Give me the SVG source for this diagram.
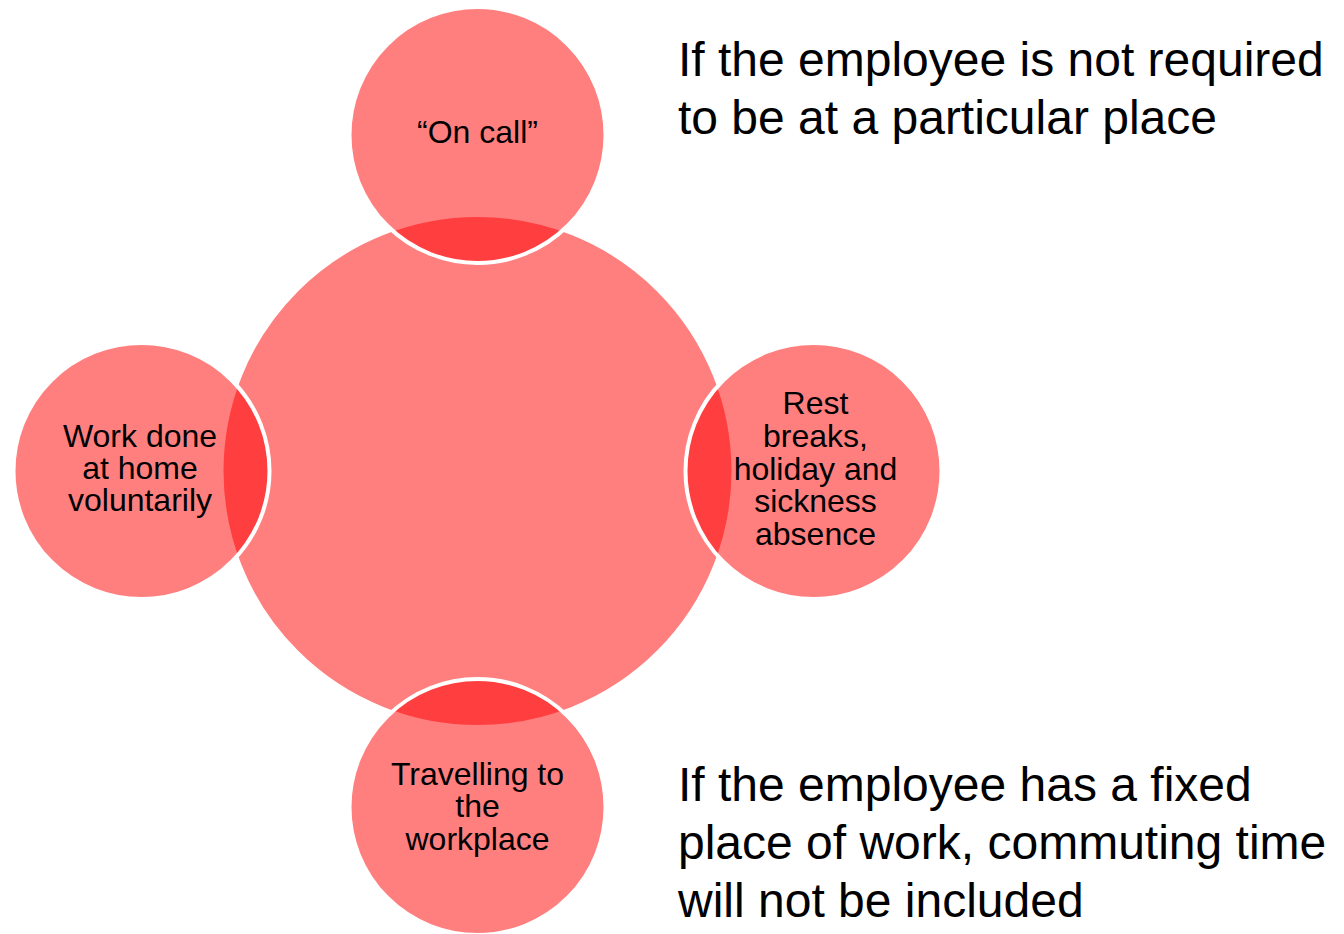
<svg xmlns="http://www.w3.org/2000/svg" width="1344" height="934" viewBox="0 0 1344 934">
  <style>
    .disc { fill: #ff0000; fill-opacity: 0.5; stroke: #ffffff; stroke-width: 4; }
    .label { font-family: "Liberation Sans", Arial, sans-serif; font-size: 32px; fill: #000000; text-anchor: middle; }
    .note { font-family: "Liberation Sans", Arial, sans-serif; font-size: 48px; fill: #000000; }
  </style>
  <rect width="1344" height="934" fill="#ffffff"/>

  <!-- central hub -->
  <g id="hub">
    <circle class="disc" cx="477.5" cy="471" r="256"/>
  </g>

  <!-- satellite nodes -->
  <g id="node-on-call">
    <circle class="disc" cx="477.5" cy="135" r="128"/>
    <text class="label" x="477.5" y="143">“On call”</text>
  </g>
  <g id="node-rest-breaks">
    <circle class="disc" cx="813.5" cy="471" r="128"/>
    <text class="label" x="815.5" y="414">Rest</text>
    <text class="label" x="815.5" y="447">breaks,</text>
    <text class="label" x="815.5" y="480">holiday and</text>
    <text class="label" x="815.5" y="512">sickness</text>
    <text class="label" x="815.5" y="545">absence</text>
  </g>
  <g id="node-travelling">
    <circle class="disc" cx="477.5" cy="807" r="128"/>
    <text class="label" x="477.5" y="785">Travelling to</text>
    <text class="label" x="477.5" y="817">the</text>
    <text class="label" x="477.5" y="850">workplace</text>
  </g>
  <g id="node-work-at-home">
    <circle class="disc" cx="141.5" cy="471" r="128"/>
    <text class="label" x="140" y="447">Work done</text>
    <text class="label" x="140" y="479">at home</text>
    <text class="label" x="140" y="511">voluntarily</text>
  </g>

  <!-- side notes -->
  <g id="note-top">
    <text class="note" x="678" y="76">If the employee is not required</text>
    <text class="note" x="678" y="134">to be at a particular place</text>
  </g>
  <g id="note-bottom">
    <text class="note" x="678" y="801">If the employee has a fixed</text>
    <text class="note" x="678" y="859">place of work, commuting time</text>
    <text class="note" x="678" y="917">will not be included</text>
  </g>

  <g id="connectors"/>
</svg>
